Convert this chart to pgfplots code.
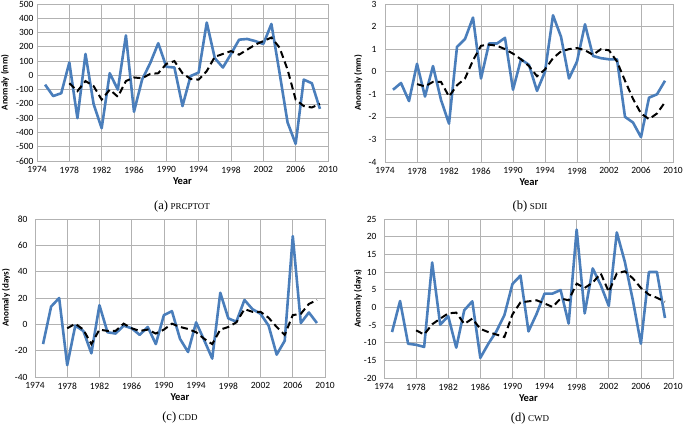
\documentclass[border=0pt]{standalone}
\usepackage{fontspec}
\usepackage{pgfplots}
\pgfplotsset{compat=1.18}
\usepackage{pgfplotstable}
\newfontfamily\axfont{Carlito}
\newfontfamily\capfont{Liberation Serif}
\definecolor{xlblue}{RGB}{74,126,187}

\pgfplotstableread{
yr v
1975 -65
1976 -145
1977 -125
1978 90
1979 -300
1980 150
1981 -200
1982 -370
1983 15
1984 -100
1985 280
1986 -255
1987 -30
1988 85
1989 225
1990 60
1991 55
1992 -215
1993 -5
1994 20
1995 370
1996 120
1997 55
1998 150
1999 250
2000 255
2001 240
2002 220
2003 360
2004 20
2005 -330
2006 -480
2007 -30
2008 -55
2009 -235
}\ablue
\pgfplotstableread{
yr v
1978 -55
1979 -110
1980 -40
1981 -75
1982 -170
1983 -100
1984 -150
1985 -40
1986 -15
1987 -20
1988 10
1989 15
1990 80
1991 100
1992 15
1993 -25
1994 -30
1995 30
1996 130
1997 150
1998 170
1999 145
2000 180
2001 215
2002 240
2003 265
2004 195
2005 40
2006 -170
2007 -215
2008 -225
2009 -200
}\adash
\pgfplotstableread{
yr v
1975 -0.8
1976 -0.5
1977 -1.3
1978 0.35
1979 -1.1
1980 0.25
1981 -1.25
1982 -2.3
1983 1.1
1984 1.45
1985 2.4
1986 -0.3
1987 1.25
1988 1.25
1989 1.5
1990 -0.8
1991 0.55
1992 0.3
1993 -0.85
1994 0.0
1995 2.5
1996 1.55
1997 -0.3
1998 0.45
1999 2.1
2000 0.7
2001 0.6
2002 0.55
2003 0.55
2004 -2.0
2005 -2.25
2006 -2.9
2007 -1.15
2008 -1.0
2009 -0.4
}\bblue
\pgfplotstableread{
yr v
1978 -0.55
1979 -0.65
1980 -0.45
1981 -0.45
1982 -1.1
1983 -0.6
1984 -0.3
1985 0.5
1986 1.15
1987 1.2
1988 1.15
1989 1.0
1990 0.8
1991 0.55
1992 0.25
1993 -0.2
1994 0.1
1995 0.6
1996 0.9
1997 1.0
1998 1.05
1999 0.95
2000 0.75
2001 1.0
2002 0.95
2003 0.45
2004 -0.4
2005 -1.2
2006 -1.85
2007 -2.1
2008 -1.85
2009 -1.35
}\bdash
\pgfplotstableread{
yr v
1975 -15
1976 13.5
1977 20
1978 -31
1979 -1
1980 -5
1981 -22
1982 14.5
1983 -6
1984 -7
1985 -1
1986 -3
1987 -8
1988 -2
1989 -15
1990 7
1991 10
1992 -11
1993 -21
1994 1.5
1995 -12
1996 -26
1997 24
1998 4.5
1999 2
2000 18.5
2001 11.5
2002 8
2003 -1
2004 -23
2005 -12.5
2006 67
2007 1
2008 9
2009 1
}\cblue
\pgfplotstableread{
yr v
1978 -3
1979 0.5
1980 -4
1981 -15
1982 -4
1983 -5
1984 -5
1985 0.5
1986 -3
1987 -5
1988 -4
1989 -7
1990 -4
1991 0.5
1992 -2
1993 -3.5
1994 -6
1995 -11
1996 -15
1997 -4
1998 -2
1999 1.5
2000 11.5
2001 9.5
2002 9.5
2003 5
2004 -2
2005 -8
2006 7
2007 8
2008 15.5
2009 18.5
}\cdash
\pgfplotstableread{
yr v
1975 -7
1976 1.8
1977 -10.3
1978 -10.6
1979 -11.2
1980 12.7
1981 -4.9
1982 -2.5
1983 -11.4
1984 -0.8
1985 1.7
1986 -14.3
1987 -10.3
1988 -6.8
1989 -2.2
1990 6.6
1991 9
1992 -6.8
1993 -1.9
1994 3.9
1995 3.9
1996 4.9
1997 -4.6
1998 22
1999 -1.7
2000 11
2001 6.3
2002 0.4
2003 21.2
2004 12.9
2005 2
2006 -10.3
2007 10
2008 10
2009 -3
}\dblue
\pgfplotstableread{
yr v
1978 -6.5
1979 -7.7
1980 -4.8
1981 -3.2
1982 -1.7
1983 -1.5
1984 -4.7
1985 -3.2
1986 -6.1
1987 -7
1988 -7.7
1989 -8.4
1990 -2
1991 1.4
1992 1.7
1993 2
1994 1.1
1995 0.1
1996 2.5
1997 2
1998 6.7
1999 5.5
2000 7
2001 9.6
2002 4.4
2003 9.6
2004 10.2
2005 8.2
2006 5.5
2007 3.6
2008 2.7
2009 1.6
}\ddash

\pgfplotsset{
  panel/.style={
    scale only axis,
    anchor=south west,
    xmin=1974, xmax=2010,
    xtick={1974,1978,...,2010},
    /pgf/number format/assume math mode=true,
    /pgf/number format/1000 sep={},
    grid=major,
    major grid style={draw=gray!60, line width=0.7pt},
    axis line style={draw=gray!60, line width=0.7pt},
    tick style={draw=none},
    ticklabel style={font=\axfont\fontsize{9.5}{10}\selectfont},
    xticklabel style={yshift=-2pt},
    xlabel={Year},
    xlabel style={font=\axfont\bfseries\fontsize{10.5}{11}\selectfont, yshift=2pt},
    ylabel style={font=\axfont\bfseries\fontsize{9}{10}\selectfont, anchor=center},
  },
  blue line/.style={draw=xlblue, line width=2.6pt, line join=round, no marks},
  dash line/.style={draw=black, line width=2pt, dash pattern=on 7pt off 4pt, no marks},
}

\begin{document}
\begin{tikzpicture}
\useasboundingbox (0,0) rectangle (685pt,424pt);

% (a)
\begin{axis}[panel, at={(37pt,263pt)}, width=291pt, height=157pt,
  ymin=-600, ymax=500, ytick={-600,-500,...,500},
  ylabel={Anomaly (mm)},
  ylabel style={at={(axis description cs:-0.11,0.5)}}]
\addplot[blue line] table[x=yr,y=v] {\ablue};
\addplot[dash line] table[x=yr,y=v] {\adash};
\end{axis}

% (b)
\begin{axis}[panel, at={(385pt,262pt)}, width=288pt, height=158pt,
  ymin=-4, ymax=3, ytick={-4,-3,...,3},
  yticklabel style={xshift=-5pt},
  ylabel={Anomaly (mm)},
  ylabel style={at={(axis description cs:-0.093,0.5)}}]
\addplot[blue line] table[x=yr,y=v] {\bblue};
\addplot[dash line] table[x=yr,y=v] {\bdash};
\end{axis}

% (c)
\begin{axis}[panel, at={(35pt,47pt)}, width=290pt, height=158pt,
  ymin=-40, ymax=80, ytick={-40,-20,...,80},
  yticklabel style={xshift=-4pt},
  ylabel={Anomaly (days)},
  ylabel style={at={(axis description cs:-0.10,0.5)}}]
\addplot[blue line] table[x=yr,y=v] {\cblue};
\addplot[dash line] table[x=yr,y=v] {\cdash};
\end{axis}

% (d)
\begin{axis}[panel, at={(384pt,46pt)}, width=289pt, height=159pt,
  ymin=-20, ymax=25, ytick={-20,-15,...,25},
  yticklabel style={xshift=-4pt},
  ylabel={Anomaly (days)},
  ylabel style={at={(axis description cs:-0.09,0.5)}}]
\addplot[blue line] table[x=yr,y=v] {\dblue};
\addplot[dash line] table[x=yr,y=v] {\ddash};
\end{axis}

\node[font=\capfont] at (182pt,218pt) {{\fontsize{12.5}{13}\selectfont (a)} {\fontsize{9}{10}\selectfont PRCPTOT}};
\node[font=\capfont] at (530pt,218pt) {{\fontsize{12.5}{13}\selectfont (b)} {\fontsize{9}{10}\selectfont SDII}};
\node[font=\capfont] at (180pt,7pt) {{\fontsize{12.5}{13}\selectfont (c)} {\fontsize{9}{10}\selectfont CDD}};
\node[font=\capfont] at (530pt,6pt) {{\fontsize{12.5}{13}\selectfont (d)} {\fontsize{9}{10}\selectfont CWD}};
\end{tikzpicture}
\end{document}
